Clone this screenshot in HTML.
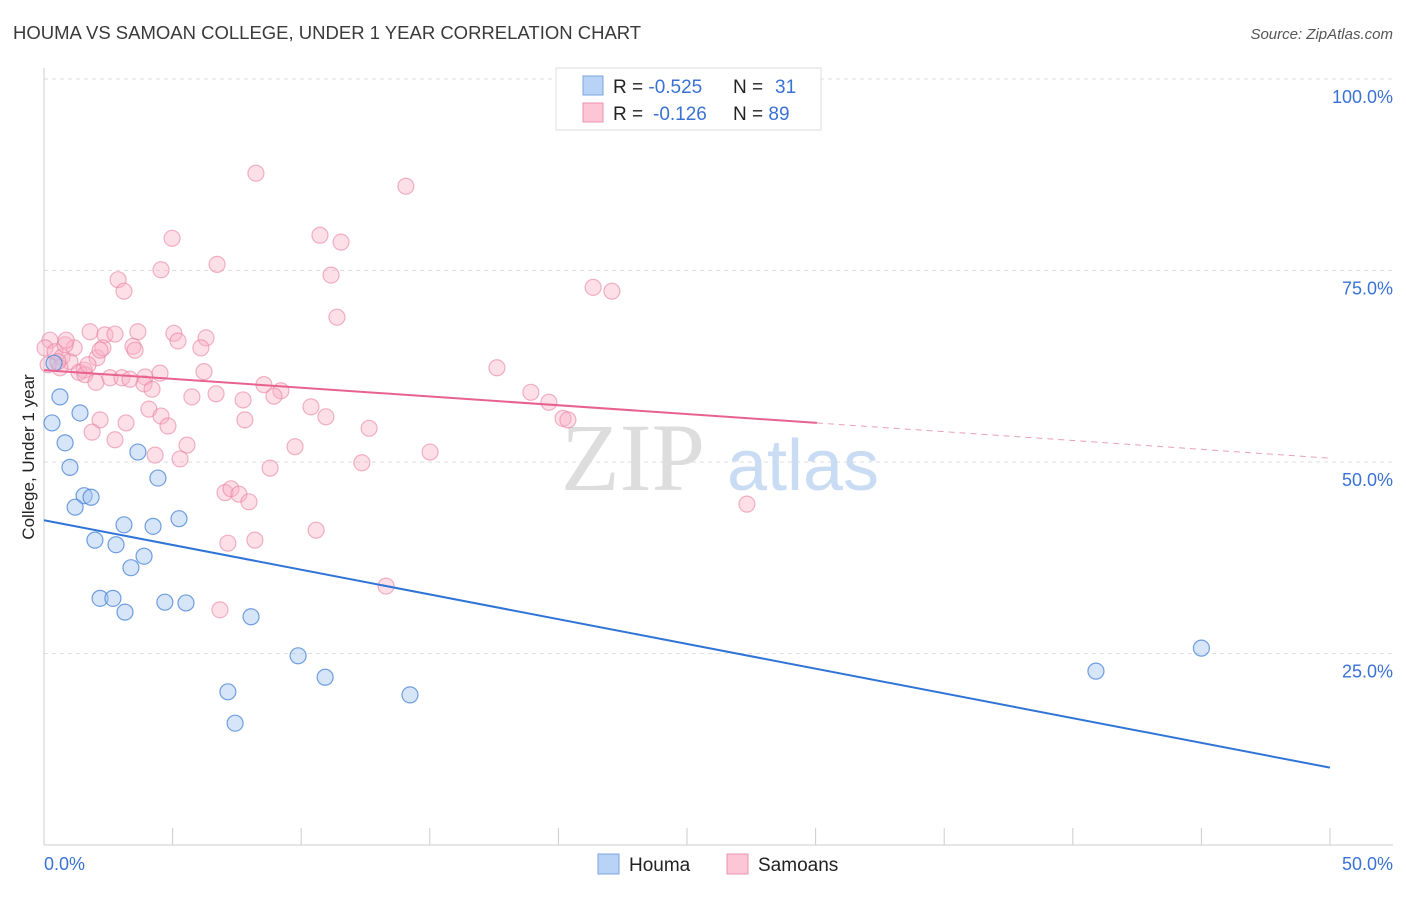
<!DOCTYPE html>
<html><head><meta charset="utf-8"><style>
body{margin:0;background:#fff;font-family:"Liberation Sans",sans-serif}
</style></head><body>
<svg width="1406" height="892" xmlns="http://www.w3.org/2000/svg">
<text x="13" y="39" font-size="18.5" fill="#3a3a3a">HOUMA VS SAMOAN COLLEGE, UNDER 1 YEAR CORRELATION CHART</text>
<text x="1393" y="39" font-size="15" fill="#555" text-anchor="end" font-style="italic">Source: ZipAtlas.com</text>
<g id="grid"></g>
<g>
<text x="633" y="490" font-size="96" fill="#ddd" text-anchor="middle" font-family="Liberation Serif,serif">ZIP</text>
<text x="803" y="490" font-size="72" fill="#c9dcf3" text-anchor="middle">atlas</text>
</g>
<g id="pts"></g>
<g id="lines"></g>
<text transform="translate(34,457) rotate(-90)" font-size="17" fill="#222" text-anchor="middle">College, Under 1 year</text>
<g>
<rect x="556" y="68" width="265" height="62" fill="#fff" stroke="#ddd"/>
<rect x="583" y="76" width="20" height="19" fill="#b8d3f5" stroke="#7aa6e0"/>
<rect x="583" y="103" width="20" height="19" fill="#fcc6d6" stroke="#ec93ae"/>
<text x="613" y="93" font-size="19" fill="#222">R = <tspan fill="#3a72d4">-0.525</tspan><tspan x="733">N = </tspan><tspan x="775" fill="#3a72d4">31</tspan></text>
<text x="613" y="120" font-size="19" fill="#222">R = <tspan x="653" fill="#3a72d4">-0.126</tspan><tspan x="733">N = </tspan><tspan fill="#3a72d4">89</tspan></text>
</g>
<g>
<rect x="598" y="854" width="21" height="20" fill="#b8d3f5" stroke="#7aa6e0"/>
<text x="629" y="871" font-size="19" fill="#222">Houma</text>
<rect x="727" y="854" width="21" height="20" fill="#fcc6d6" stroke="#ec93ae"/>
<text x="758" y="871" font-size="19" fill="#222">Samoans</text>
</g>
</svg>
<script>
const yTicks=[25,50,75,100];
const xTickLabels=["0.0%","50.0%"];
const houmaX=[0.31,0.62,0.39,0.82,1.01,1.40,1.56,1.83,1.21,1.98,2.80,3.11,3.65,4.43,4.24,5.25,3.89,3.38,2.18,2.68,3.15,4.70,5.52,8.05,9.88,10.93,7.15,7.43,14.23,40.9,45.0];
const houmaY=[55.1,58.5,62.9,52.5,49.3,56.4,45.6,45.4,44.1,39.8,39.2,41.8,51.3,47.9,41.6,42.6,37.7,36.2,32.2,32.2,30.4,31.7,31.6,29.8,24.7,21.9,20.0,15.9,19.6,22.7,25.7];
const samX=[8.24,14.07,4.98,10.73,11.55,4.55,6.73,11.16,2.88,3.11,21.35,22.08,11.39,0.23,0.04,0.43,0.70,1.01,1.17,1.79,2.37,2.76,3.65,5.05,5.21,6.30,6.10,3.46,3.54,2.06,2.29,1.56,1.36,1.59,2.02,0.62,2.57,3.03,3.34,3.93,3.89,4.20,4.51,6.22,8.55,9.21,8.94,5.75,6.69,7.74,10.38,17.61,18.93,19.63,20.18,20.37,4.08,4.55,4.82,3.19,2.18,1.87,2.76,5.56,4.32,5.29,7.81,10.96,12.64,9.76,8.79,12.36,15.01,7.04,7.27,7.58,7.97,10.58,7.15,8.20,6.84,13.30,27.33,0.82,0.16,0.54,0.86,2.18,1.71];
const samY=[87.7,86.0,79.2,79.6,78.7,75.1,75.8,74.4,73.8,72.3,72.8,72.3,68.9,65.9,64.9,64.4,63.7,63.1,64.9,67.0,66.6,66.7,67.0,66.8,65.8,66.2,64.9,65.1,64.6,63.6,64.9,62.0,61.7,61.4,60.4,62.3,61.0,61.0,60.8,61.1,60.2,59.5,61.6,61.8,60.1,59.3,58.6,58.5,58.9,58.1,57.2,62.3,59.1,57.8,55.7,55.5,56.9,56.0,54.7,55.1,55.5,53.9,52.9,52.2,50.9,50.4,55.5,55.9,54.4,52.0,49.2,49.9,51.3,46.0,46.5,45.8,44.8,41.1,39.4,39.8,30.7,33.8,44.5,65.3,62.7,63.1,65.9,64.6,62.7];
const houmaTrend=[42.4,10.1];
const samTrend=[62.0,55.1,50.5];
const X=v=>44+v/50*1286, Y=v=>845-v/100*766;
const NS="http://www.w3.org/2000/svg";
function mk(t,a,p){const e=document.createElementNS(NS,t);for(const k in a)e.setAttribute(k,a[k]);p.appendChild(e);return e;}
const g=document.getElementById('grid');
yTicks.forEach(t=>{
 const l=mk('line',{x1:44,x2:1393,y1:Y(t),y2:Y(t),stroke:'#ddd','stroke-dasharray':'4,4'},g);
 
 
 const tx=mk('text',{x:1393,y:Y(t)+24,'font-size':18,fill:'#3a72d4','text-anchor':'end'},g);
 tx.textContent=t.toFixed(1)+'%';
 
 
});
mk('line',{x1:44,x2:44,y1:68,y2:845,stroke:'#ccc'},g);
mk('line',{x1:44,x2:1393,y1:845,y2:845,stroke:'#ccc'},g);
for(let i=0;i<=10;i++){const l=mk('line',{x1:X(i*5),x2:X(i*5),y1:828,y2:845,stroke:'#ccc'},g);
 
 }
[[0,'start',44],[50,'end',1393]].forEach((d,i)=>{const t=mk('text',{x:d[2],y:870,'font-size':18,fill:'#3a72d4','text-anchor':d[1]},g);t.textContent=xTickLabels[i];
 
 });
const p=document.getElementById('pts');
samX.forEach((x,i)=>{const c=mk('circle',{cx:X(x),cy:Y(samY[i]),r:8,fill:'rgba(249,175,198,0.4)',stroke:'rgba(232,130,162,0.6)','stroke-width':1.2},p);
 
 });
houmaX.forEach((x,i)=>{const c=mk('circle',{cx:X(x),cy:Y(houmaY[i]),r:8,fill:'rgba(165,198,240,0.45)',stroke:'rgba(70,130,215,0.75)','stroke-width':1.2},p);
 
 });
const L=document.getElementById('lines');
let a=mk('line',{x1:X(0),y1:Y(houmaTrend[0]),x2:X(50),y2:Y(houmaTrend[1]),stroke:'#2f74d6','stroke-width':2},L);


a=mk('line',{x1:X(0),y1:Y(samTrend[0]),x2:X(30.05),y2:Y(samTrend[1]),stroke:'#e8628f','stroke-width':2},L);


a=mk('line',{x1:X(30.05),y1:Y(samTrend[1]),x2:X(50),y2:Y(samTrend[2]),stroke:'#e8a0b8','stroke-width':1,'stroke-dasharray':'6,5'},L);


</script>
</body></html>
